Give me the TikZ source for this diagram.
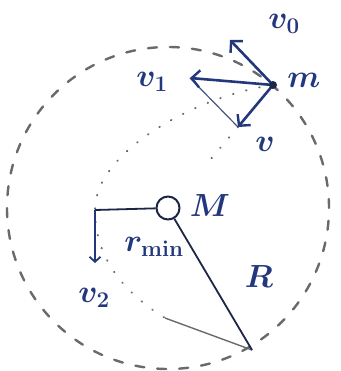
\documentclass[tikz,border=0pt]{standalone}
\usepackage{fix-cm}
\definecolor{InkBlue}{RGB}{35,55,125}
\definecolor{InkDark}{RGB}{30,38,72}
\definecolor{PencilGray}{RGB}{105,105,112}
\usepackage{amsmath}
\usepackage{tikz}
\usetikzlibrary{arrows.meta}

\begin{document}
\begin{tikzpicture}[x=1pt, y=-1pt,
    vec/.style={InkBlue, line width=2.6pt, line cap=round, -{Straight Barb[length=8pt, width=17pt, line width=2.4pt]}},
    bar/.style={InkDark, line width=1.8pt},
    rim/.style={PencilGray, line width=2.4pt, line cap=round, dash pattern=on 9pt off 13pt},
    orbit/.style={PencilGray, line width=2pt, line cap=round, dash pattern=on 0.5pt off 13pt},
    lbl/.style={text=InkBlue, font=\fontsize{32}{36}\selectfont\boldmath}]
          \useasboundingbox (0,0) rectangle (340,371);
          \node[draw=InkDark, line width=2pt, circle, inner sep=0pt, minimum size=23pt] (M) at (168,208) {};
          \coordinate (m) at (273,85);
          \coordinate (v0) at (230,40);
          \coordinate (v1) at (190,78);
          \coordinate (v) at (238,127);
          \coordinate (vend) at (210,160);
          \coordinate (peri) at (95,210);
          \coordinate (v2) at (95,263);
          \coordinate (exit) at (165,318);
          \coordinate (Rend) at (252,350);
          \draw[rim] (M.center) circle (161pt);
          \draw[orbit] (m) .. controls (200,95) and (95,150) .. (peri) .. controls (95,255) and (120,290) .. (exit);
          \draw[orbit] (v) -- (vend);
          \draw[PencilGray, line width=1.4pt] (exit) -- (Rend);
          \draw[InkBlue!60!gray, line width=1.2pt] (v1) -- (v);
          \draw[vec] (m) -- (v0);
          \draw[vec] (m) -- (v1);
          \draw[vec] (m) -- (v);
          \fill[InkDark] (m) circle (4pt);
          \draw[bar] (peri) -- (M);
          \draw[bar] (M) -- (Rend);
          \draw[InkBlue, line width=2pt, -{Straight Barb[length=5pt, width=11pt, line width=1.8pt]}] (peri) -- (v2);
          \node[lbl] (lv0) at (284,24) {$v_0$};
          \node[lbl] (lm) at (304,80) {$m$};
          \node[lbl] (lv1) at (152,82) {$v_1$};
          \node[lbl] (lv) at (265,144) {$v$};
          \node[lbl] (lM) at (210,206) {$M$};
          \node[lbl] (lrmin) at (154,247) {$r_{\min}$};
          \node[lbl] (lv2) at (94,298) {$v_2$};
          \node[lbl] (lR) at (259,277) {$R$};
        \end{tikzpicture}
\end{document}
